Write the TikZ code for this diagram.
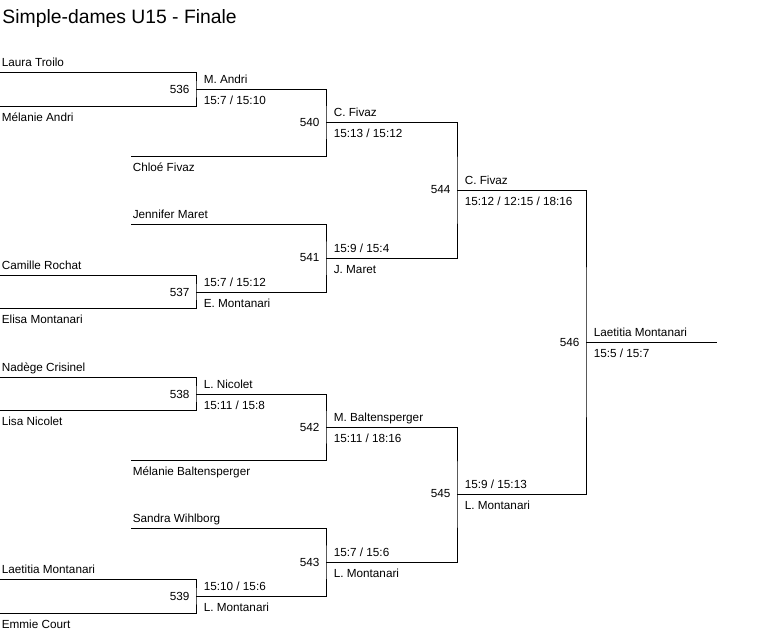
\documentclass[tikz,border=0pt]{standalone}
\usepackage{fontspec}
\setmainfont{Liberation Sans}
\begin{document}
\begin{tikzpicture}[x=0.75pt,y=-0.75pt,line width=0.75pt,
every node/.style={inner sep=0pt,font=\fontsize{8.8}{10}\selectfont},
above line/.style={anchor=base west,xshift=1pt,yshift=4.5pt},
below line/.style={anchor=base west,xshift=1pt,yshift=-11.25pt},
win above/.style={anchor=base west,xshift=5.5pt,yshift=4.5pt},
win below/.style={anchor=base west,xshift=5.5pt,yshift=-11.25pt},
matchno/.style={anchor=east,xshift=-4.5pt}]

\useasboundingbox (0,0) rectangle (783,640);
\node[anchor=base west,font=\fontsize{14.5}{17}\selectfont] (title) at (2,23) {Simple-dames U15 - Finale};

% entries
\coordinate (p1) at (0,72);   \coordinate (p2) at (0,106);
\coordinate (p3) at (0,275);  \coordinate (p4) at (0,308);
\coordinate (p5) at (0,377);  \coordinate (p6) at (0,410);
\coordinate (p7) at (0,579);  \coordinate (p8) at (0,613);
\coordinate (q1) at (131,156); \coordinate (q2) at (131,224);
\coordinate (q3) at (131,460); \coordinate (q4) at (131,528);

% matches
\coordinate (m536) at (196,89);  \coordinate (m537) at (196,292);
\coordinate (m538) at (196,394); \coordinate (m539) at (196,596);
\coordinate (m540) at (326,122); \coordinate (m541) at (326,258);
\coordinate (m542) at (326,427); \coordinate (m543) at (326,562);
\coordinate (m544) at (457,190); \coordinate (m545) at (457,494);
\coordinate (m546) at (586,342); \coordinate (fin) at (717,342);

\draw (p1) -| (m536) |- (p2);
\draw (p3) -| (m537) |- (p4);
\draw (p5) -| (m538) |- (p6);
\draw (p7) -| (m539) |- (p8);
\draw (m536) -| (m540) |- (q1);
\draw (q2) -| (m541) |- (m537);
\draw (m538) -| (m542) |- (q3);
\draw (q4) -| (m543) |- (m539);
\draw (m540) -| (m544) |- (m541);
\draw (m542) -| (m545) |- (m543);
\draw (m544) -| (m546) |- (m545);
\draw (m546) -- (fin);

\node[above line] (n1) at (p1) {Laura Troilo};
\node[below line] (n2) at (p2) {Mélanie Andri};
\node[above line] (n3) at (p3) {Camille Rochat};
\node[below line] (n4) at (p4) {Elisa Montanari};
\node[above line] (n5) at (p5) {Nadège Crisinel};
\node[below line] (n6) at (p6) {Lisa Nicolet};
\node[above line] (n7) at (p7) {Laetitia Montanari};
\node[below line] (n8) at (p8) {Emmie Court};
\node[below line] (b1) at (q1) {Chloé Fivaz};
\node[above line] (b2) at (q2) {Jennifer Maret};
\node[below line] (b3) at (q3) {Mélanie Baltensperger};
\node[above line] (b4) at (q4) {Sandra Wihlborg};

\node[matchno] (k536) at (m536) {536};
\node[win above] (w536) at (m536) {M. Andri};
\node[win below] (s536) at (m536) {15:7 / 15:10};
\node[matchno] (k537) at (m537) {537};
\node[win above] (s537) at (m537) {15:7 / 15:12};
\node[win below] (w537) at (m537) {E. Montanari};
\node[matchno] (k538) at (m538) {538};
\node[win above] (w538) at (m538) {L. Nicolet};
\node[win below] (s538) at (m538) {15:11 / 15:8};
\node[matchno] (k539) at (m539) {539};
\node[win above] (s539) at (m539) {15:10 / 15:6};
\node[win below] (w539) at (m539) {L. Montanari};
\node[matchno] (k540) at (m540) {540};
\node[win above] (w540) at (m540) {C. Fivaz};
\node[win below] (s540) at (m540) {15:13 / 15:12};
\node[matchno] (k541) at (m541) {541};
\node[win above] (s541) at (m541) {15:9 / 15:4};
\node[win below] (w541) at (m541) {J. Maret};
\node[matchno] (k542) at (m542) {542};
\node[win above] (w542) at (m542) {M. Baltensperger};
\node[win below] (s542) at (m542) {15:11 / 18:16};
\node[matchno] (k543) at (m543) {543};
\node[win above] (s543) at (m543) {15:7 / 15:6};
\node[win below] (w543) at (m543) {L. Montanari};
\node[matchno] (k544) at (m544) {544};
\node[win above] (w544) at (m544) {C. Fivaz};
\node[win below] (s544) at (m544) {15:12 / 12:15 / 18:16};
\node[matchno] (k545) at (m545) {545};
\node[win above] (s545) at (m545) {15:9 / 15:13};
\node[win below] (w545) at (m545) {L. Montanari};
\node[matchno] (k546) at (m546) {546};
\node[win above] (w546) at (m546) {Laetitia Montanari};
\node[win below] (s546) at (m546) {15:5 / 15:7};

\end{tikzpicture}
\end{document}
